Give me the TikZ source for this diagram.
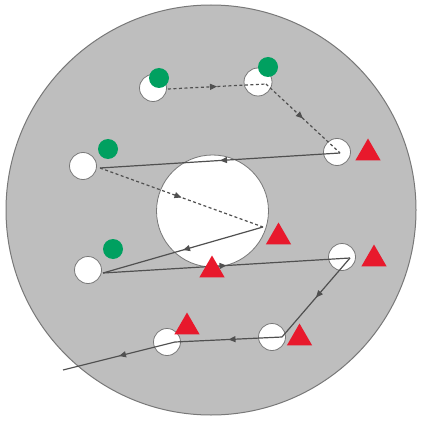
\documentclass[tikz,border=0pt]{standalone}
\usetikzlibrary{shapes.geometric,decorations.markings,arrows.meta}
\definecolor{discgray}{RGB}{190,190,190}
\definecolor{edgegray}{RGB}{120,120,120}
\definecolor{pathgray}{RGB}{80,80,80}
\definecolor{startgreen}{RGB}{0,160,96}
\definecolor{endred}{RGB}{232,25,44}
\begin{document}
\begin{tikzpicture}[x=1pt,y=-1pt,
  hole/.style={circle,fill=white,draw=edgegray,line width=0.8pt,inner sep=0pt,minimum size=27pt},
  midarrow/.style={postaction={decorate},decoration={markings,mark=at position 0.5 with {\arrow{Triangle[length=7pt,width=6pt]}}}},
  cut/.style={draw=pathgray,line width=1.2pt,midarrow},
  rapid/.style={draw=pathgray,line width=1.2pt,dash pattern=on 3pt off 2.5pt,midarrow},
  startdot/.style={circle,fill=startgreen,inner sep=0pt,minimum size=20pt},
  endmark/.style={regular polygon,regular polygon sides=3,fill=endred,inner sep=0pt,minimum size=29pt}]
\useasboundingbox (0,0) rectangle (420,422);
\node[circle,fill=discgray,draw=edgegray,line width=1pt,inner sep=0pt,minimum size=410pt] (disc) at (211,210) {};
\node[circle,fill=white,draw=edgegray,line width=0.8pt,inner sep=0pt,minimum size=112pt] (big) at (212.5,211) {};
\node[hole] (h1) at (153,88) {};
\node[hole,minimum size=28pt] (h2) at (258,82) {};
\node[hole] (h3) at (337,152) {};
\node[hole] (h4) at (83,166) {};
\node[hole] (h5) at (88,270) {};
\node[hole] (h6) at (342,257) {};
\node[hole] (h7) at (167,342) {};
\node[hole] (h8) at (272,337) {};
\coordinate (a1) at (168,89);
\coordinate (a2) at (266,84);
\coordinate (a3) at (340,153);
\coordinate (a4) at (100,168);
\coordinate (a5) at (263,227);
\coordinate (a6) at (103,273);
\coordinate (a7) at (350,258);
\coordinate (a8) at (282,337);
\coordinate (a9) at (175,342);
\coordinate (a10) at (63,370);
\draw[rapid] (a1) -- (a2);
\draw[rapid] (a2) -- (a3);
\draw[cut] (a3) -- (a4);
\draw[rapid] (a4) -- (a5);
\draw[cut] (a5) -- (a6);
\draw[cut] (a6) -- (a7);
\draw[cut] (a7) -- (a8);
\draw[cut] (a8) -- (a9);
\draw[cut] (a9) -- (a10);
\node[startdot] (g1) at (159,78) {};
\node[startdot] (g2) at (268,67) {};
\node[startdot] (g3) at (108,149) {};
\node[startdot] (g4) at (113,249) {};
\node[endmark] (t1) at (368,153) {};
\node[endmark] (t2) at (278.5,237) {};
\node[endmark] (t3) at (212,270) {};
\node[endmark] (t4) at (374,259) {};
\node[endmark] (t5) at (187,327) {};
\node[endmark] (t6) at (299.5,338) {};
\end{tikzpicture}
\end{document}
